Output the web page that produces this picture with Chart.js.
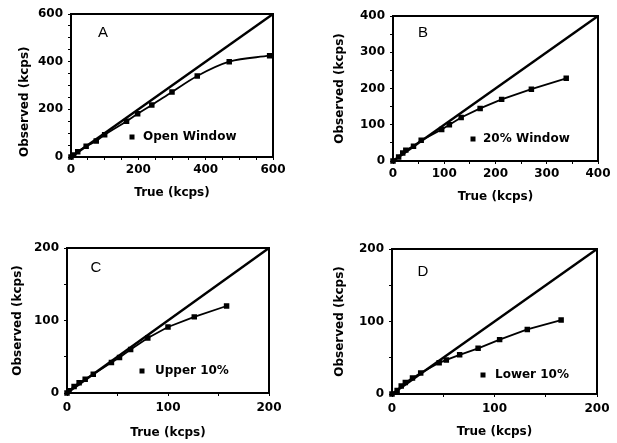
<!DOCTYPE html>
<html><head><meta charset="utf-8">
<script src="https://cdn.jsdelivr.net/npm/chart.js@4.4.1/dist/chart.umd.min.js"></script>
<style>
html,body{margin:0;padding:0;background:#fff;width:617px;height:443px;overflow:hidden;position:relative}
canvas{position:absolute;display:block}
</style></head><body>
<canvas id="cA" width="308" height="222" style="left:0;top:0"></canvas>
<canvas id="cB" width="309" height="222" style="left:308px;top:0"></canvas>
<canvas id="cC" width="308" height="221" style="left:0;top:222px"></canvas>
<canvas id="cD" width="309" height="221" style="left:308px;top:222px"></canvas>
<script>
// ---- data ----
const trueA = [0, 8, 20, 45, 75, 100, 165, 198, 240, 300, 375, 470, 590];
const obsA  = [0, 8, 22, 45, 67, 93, 150, 181, 218, 273, 340, 400, 425];
const trueB = [0, 11, 19, 25, 40, 55, 95, 110, 133, 170, 212, 270, 338];
const obsB  = [0, 11, 22, 30, 41, 57, 87, 100, 120, 145, 170, 198, 228];
const trueC = [0, 2, 7, 12, 18, 26, 44, 52, 63, 80, 100, 126, 158];
const obsC  = [0, 3, 9, 14, 19, 26, 42, 49, 60, 76, 91, 105, 120];
const trueD = [0, 5, 9, 13, 20, 28, 46, 53, 66, 84, 105, 132, 165];
const obsD  = [0, 5, 11, 16, 22, 29, 43, 47, 54, 63, 75, 89, 102];
const maxA = 600, maxB = 400, maxC = 200, maxD = 200;
const tickLabelsA = [0, 200, 400, 600];
const tickLabelsB = [0, 100, 200, 300, 400];
const tickLabelsC = [0, 100, 200];
const tickLabelsD = [0, 100, 200];
const letters = ['A', 'B', 'C', 'D'];
const seriesNames = ['Open Window', '20% Window', 'Upper 10%', 'Lower 10%'];
const xTitle = 'True (kcps)';
const yTitle = 'Observed (kcps)';

const FONT = '"DejaVu Sans", sans-serif';

const panelPlugin = {
  id: 'panelDeco',
  afterDatasetsDraw(chart, args, o) {
    const ctx = chart.ctx, a = chart.chartArea;
    ctx.save();
    ctx.strokeStyle = '#000';
    ctx.lineWidth = 2;
    ctx.strokeRect(a.left, a.top, a.right - a.left, a.bottom - a.top);
    // panel letter
    ctx.fillStyle = '#000';
    ctx.font = '15px "Liberation Sans", Arial, sans-serif';
    ctx.textAlign = 'center';
    ctx.textBaseline = 'middle';
    ctx.fillText(o.letter, a.left + o.lx, a.top + o.ly);
    // legend
    ctx.fillRect(a.left + o.sx - 2.5, a.top + o.sy - 2.5, 5, 5);
    ctx.font = 'bold 12px ' + FONT;
    ctx.textAlign = 'left';
    ctx.fillText(o.name, a.left + o.tx, a.top + o.sy);
    ctx.restore();
  }
};

function makePanel(id, xs, ys, max, labels, smooth, lay, deco) {
  const pts = xs.map((x, i) => ({x: x, y: ys[i]}));
  const cb = v => labels.includes(v) ? String(v) : '';
  const common = {
    type: 'linear', min: 0, max: max,
    grid: {display: true, drawOnChartArea: false, drawTicks: true, tickLength: 3, color: '#000', lineWidth: 1},
    border: {display: false},
  };
  new Chart(document.getElementById(id), {
    type: 'scatter',
    data: {
      datasets: [
        {data: pts, showLine: true, borderColor: '#000', backgroundColor: '#000', borderWidth: 1.8,
         pointStyle: 'rect', pointRadius: 2.6, pointHoverRadius: 2.6,
         cubicInterpolationMode: smooth ? 'monotone' : 'default', tension: 0, clip: 6},
        {data: [{x: 0, y: 0}, {x: max, y: max}], showLine: true, borderColor: '#000', borderWidth: 2.4,
         pointRadius: 0, clip: 2}
      ]
    },
    options: {
      responsive: false, animation: false, devicePixelRatio: 1,
      layout: {padding: {left: 0, top: lay.top, right: lay.right, bottom: 0}},
      plugins: {legend: {display: false}, tooltip: {enabled: false}, panelDeco: deco},
      scales: {
        x: Object.assign({}, common, {
          position: 'bottom',
          ticks: {stepSize: 50, autoSkip: false, maxRotation: 0, padding: lay.xpad, color: '#000',
                  font: {family: FONT, size: 12, weight: 'bold'}, callback: cb},
          title: {display: true, text: xTitle, color: '#000', font: {family: FONT, size: 12, weight: 'bold'},
                  padding: {top: 0, bottom: lay.xtp}},
          afterFit: s => { s.height = lay.xh; }
        }),
        y: Object.assign({}, common, {
          position: 'left',
          ticks: {stepSize: 50, autoSkip: false, padding: 5, color: '#000',
                  font: {family: FONT, size: 12, weight: 'bold'}, callback: cb},
          title: {display: true, text: yTitle, color: '#000', align: lay.yalign, font: {family: FONT, size: 12, weight: 'bold'},
                  padding: {top: lay.ytp, bottom: 0}},
          afterFit: s => { s.width = lay.yw; }
        })
      }
    },
    plugins: [panelPlugin]
  });
}

makePanel('cA', trueA, obsA, maxA, tickLabelsA, true,
  {top: 14, right: 35, xh: 65, yw: 71, xpad: 3, xtp: 22, ytp: 18, yalign: 'start'},
  {letter: letters[0], lx: 32, ly: 19, sx: 61, sy: 123, tx: 72, name: seriesNames[0]});
makePanel('cB', trueB, obsB, maxB, tickLabelsB, false,
  {top: 16, right: 19, xh: 61, yw: 85, xpad: 2.5, xtp: 18, ytp: 25, yalign: 'center'},
  {letter: letters[1], lx: 30, ly: 17, sx: 80, sy: 123, tx: 90, name: seriesNames[1]});
makePanel('cC', trueC, obsC, maxC, tickLabelsC, false,
  {top: 26, right: 39, xh: 50, yw: 67, xpad: 5, xtp: 2.5, ytp: 11, yalign: 'center'},
  {letter: letters[2], lx: 29, ly: 20, sx: 75, sy: 123, tx: 88, name: seriesNames[2]});
makePanel('cD', trueD, obsD, maxD, tickLabelsD, false,
  {top: 27, right: 20, xh: 49, yw: 84, xpad: 5, xtp: 4, ytp: 25, yalign: 'center'},
  {letter: letters[3], lx: 31, ly: 23, sx: 91, sy: 126, tx: 103, name: seriesNames[3]});
</script>
</body></html>
